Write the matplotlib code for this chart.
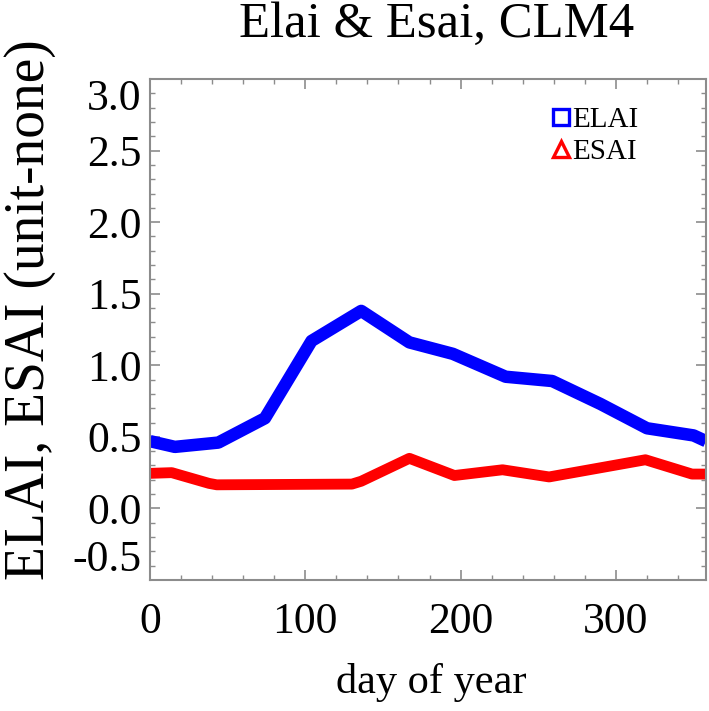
import matplotlib
matplotlib.use("Agg")
import matplotlib.pyplot as plt
from matplotlib.lines import Line2D
from matplotlib.ticker import MultipleLocator

# Data
elai_days = [0, 16, 44, 74, 104, 136, 167, 195, 229, 259, 290, 320, 350, 358]
elai_vals = [0.47, 0.43, 0.46, 0.63, 1.17, 1.38, 1.16, 1.08, 0.92, 0.89, 0.73, 0.56, 0.51, 0.47]
esai_days = [0, 14, 38, 43, 130, 136, 167, 196, 227, 257, 288, 319, 349, 358]
esai_vals = [0.245, 0.25, 0.175, 0.165, 0.17, 0.19, 0.35, 0.23, 0.27, 0.22, 0.28, 0.34, 0.24, 0.24]
series_names = ["ELAI", "ESAI"]
xticks = [0, 100, 200, 300]
yticks = [-0.5, 0.0, 0.5, 1.0, 1.5, 2.0, 2.5, 3.0]

plt.rcParams['font.family'] = ['Liberation Serif', 'DejaVu Serif']

fig = plt.figure(figsize=(7.09, 7.11), dpi=100)
ax = fig.add_axes([150/709, (711-580)/711, (706-150)/709, (580-79)/711])

ax.plot(elai_days, elai_vals, color='#0000ff', lw=9.0, solid_joinstyle='round', solid_capstyle='butt')
ax.plot(esai_days, esai_vals, color='#ff0000', lw=7.8, solid_joinstyle='round', solid_capstyle='butt')

ax.set_xlim(0, 358)
ax.set_ylim(-0.5, 3.0)
ax.set_xticks(xticks)
ax.set_yticks(yticks)
ax.set_yticklabels([f"{v:.1f}" for v in yticks])
ax.xaxis.set_minor_locator(MultipleLocator(20))
ax.yaxis.set_minor_locator(MultipleLocator(0.1))

sc = '#8c8c8c'
for s in ax.spines.values():
    s.set_color(sc)
    s.set_linewidth(1.5)
ax.tick_params(which='both', direction='in', top=True, right=True, colors=sc,
               labelcolor='black', labelsize=31.5)
ax.tick_params(which='major', length=7.5, width=1.2)
ax.tick_params(which='minor', length=3.8, width=1.0)
ax.tick_params(axis='x', pad=16)
ax.tick_params(axis='y', pad=6)

fig.canvas.draw()
ylabs = ax.get_yticklabels()
ylabs[-1].set_va('top')
ylabs[0].set_va('bottom')

ax.set_title("Elai & Esai, CLM4", fontsize=36.5, pad=30, x=0.515)
ax.set_xlabel("day of year", fontsize=30.5)
ax.xaxis.set_label_coords(0.505, (580-663)/501)
ax.set_ylabel("ELAI, ESAI (unit-none)", fontsize=40)
ax.yaxis.set_label_coords((56-150)/556, (580-310)/501)

handles = [
    Line2D([], [], ls='none', marker='s', ms=12, mfc='none', mec='#0000ff', mew=2.4),
    Line2D([], [], ls='none', marker='^', ms=12, mfc='none', mec='#ff0000', mew=2.4),
]
ax.legend(handles, series_names, loc='upper right', frameon=False, fontsize=21,
          handlelength=0.7, handletextpad=0.05, labelspacing=0.2,
          borderaxespad=0.2, bbox_to_anchor=(0.91, 0.98))

fig.savefig("out.png", dpi=100)
